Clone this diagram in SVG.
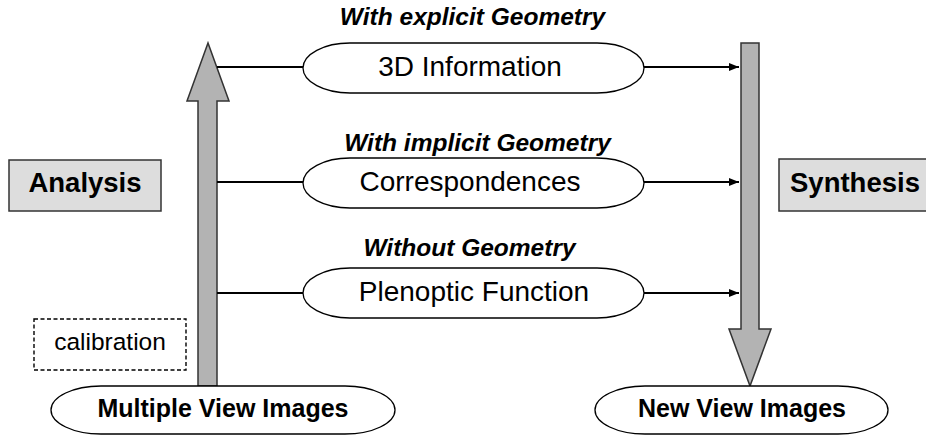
<svg xmlns="http://www.w3.org/2000/svg" width="926" height="435" viewBox="0 0 926 435">
  <defs>
    <marker id="arrow" viewBox="0 0 10 8" refX="10" refY="4" markerWidth="10" markerHeight="8" markerUnits="userSpaceOnUse" orient="auto">
      <path d="M0,0 L10,4 L0,8 Z" fill="#000"/>
    </marker>
    <style>
      text { font-family: "Liberation Sans", Arial, sans-serif; fill: #000; }
      .pill { fill: #fff; stroke: #000; stroke-width: 1.3; }
      .bar { fill: #b3b3b3; stroke: #333; stroke-width: 1.5; }
      .box { fill: #dddddd; stroke: #333; stroke-width: 1.5; }
      .link { stroke: #000; stroke-width: 2; fill: none; }
      .mid { font-size: 28px; text-anchor: middle; }
      .cap { font-size: 24.5px; font-weight: bold; font-style: italic; text-anchor: middle; }
      .big { font-size: 27.5px; font-weight: bold; text-anchor: middle; }
      .end { font-size: 25px; font-weight: bold; text-anchor: middle; }
    </style>
  </defs>

  <rect width="926" height="435" fill="#fff"/>

  <!-- side labels -->
  <g id="analysis">
    <rect class="box" x="9" y="160" width="152" height="51"/>
    <text class="big" x="85" y="192">Analysis</text>
  </g>
  <g id="synthesis">
    <rect class="box" x="779" y="159" width="160" height="52"/>
    <text class="big" x="855" y="192">Synthesis</text>
  </g>

  <!-- calibration note -->
  <g id="calibration">
    <rect x="34" y="319" width="152" height="51" fill="#fff" stroke="#000" stroke-width="1.4" stroke-dasharray="4,2.5"/>
    <text x="110" y="350" font-size="24.5" text-anchor="middle">calibration</text>
  </g>

  <!-- connectors -->
  <g id="connectors">
    <!-- analysis flow upward -->
    <path class="bar" d="M198,386 V101 H187 L208,43 L229,101 H217 V386 Z"/>
    <!-- synthesis flow downward -->
    <path class="bar" d="M741,43 H759 V329 H771 L750,386 L729,329 H741 Z"/>
    <line class="link" x1="217" y1="67" x2="303" y2="67"/>
    <line class="link" x1="644" y1="67" x2="739" y2="67" marker-end="url(#arrow)"/>
    <line class="link" x1="217" y1="182" x2="303" y2="182"/>
    <line class="link" x1="644" y1="182" x2="739" y2="182" marker-end="url(#arrow)"/>
    <line class="link" x1="217" y1="293" x2="303" y2="293"/>
    <line class="link" x1="644" y1="293" x2="739" y2="293" marker-end="url(#arrow)"/>
  </g>

  <!-- representations -->
  <g id="explicit">
    <text class="cap" x="472.5" y="25">With explicit Geometry</text>
    <path class="pill" d="M350,43 H597 A47,25 0 0 1 597,93 H350 A47,25 0 0 1 350,43 Z"/>
    <text class="mid" x="470" y="76">3D Information</text>
  </g>
  <g id="implicit">
    <text class="cap" x="477.5" y="151">With implicit Geometry</text>
    <path class="pill" d="M350,158 H597 A47,25 0 0 1 597,208 H350 A47,25 0 0 1 350,158 Z"/>
    <text class="mid" x="470" y="191">Correspondences</text>
  </g>
  <g id="nogeometry">
    <text class="cap" x="469.5" y="256">Without Geometry</text>
    <path class="pill" d="M350,268 H597 A47,25 0 0 1 597,318 H350 A47,25 0 0 1 350,268 Z"/>
    <text class="mid" x="474" y="301">Plenoptic Function</text>
  </g>

  <!-- inputs and outputs -->
  <g id="multiple-view">
    <path class="pill" d="M101,386 H345 A50,24 0 0 1 345,434 H101 A50,24 0 0 1 101,386 Z"/>
    <text class="end" x="223" y="417">Multiple View Images</text>
  </g>
  <g id="new-view">
    <path class="pill" d="M645,386 H838 A50,24 0 0 1 838,434 H645 A50,24 0 0 1 645,386 Z"/>
    <text class="end" x="742" y="417">New View Images</text>
  </g>
</svg>
